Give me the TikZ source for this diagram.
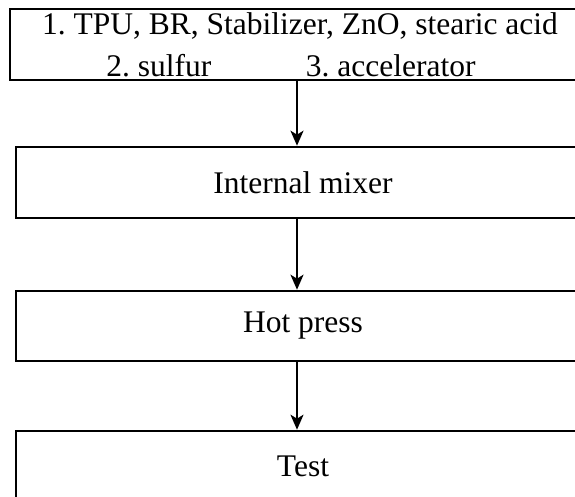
\documentclass[tikz,border=0pt]{standalone}
\usepackage{fontspec}
\setmainfont{Liberation Serif}
\usetikzlibrary{arrows.meta}
\frenchspacing
\tikzset{
	stepbox/.style={draw, line width=2.6pt, minimum height=71pt, inner sep=0pt, align=center, font=\fontsize{31.5}{42}\selectfont},
	flow/.style={-{Stealth[length=15pt,width=13pt,inset=4pt]}, line width=2.2pt}
}

\begin{document}
\begin{tikzpicture}[x=1pt,y=-1pt]
		%%%%% START %%%%%
		\useasboundingbox (0,0) rectangle (575,497);
		\clip (0,0) rectangle (575,497);
		
		\node[stepbox, minimum width=580pt] (raw) at (300,44.5) {1. TPU, BR, Stabilizer, ZnO, stearic acid\\2. sulfur\hspace{3em}3. accelerator\hspace*{18pt}};
		\node[stepbox, minimum width=574pt] (mixer) at (303,182.5) {Internal mixer};
		\node[stepbox, minimum width=574pt, minimum height=70pt] (press) at (303,326) {Hot press};
		\node[stepbox, minimum width=574pt, minimum height=70pt] (test) at (303,466) {Test};
		
		\coordinate (axis) at (297,0);
		\draw[flow] (raw.south -| axis) -- (mixer.north -| axis);
		\draw[flow] (mixer.south -| axis) -- (press.north -| axis);
		\draw[flow] (press.south -| axis) -- (test.north -| axis);
		
		%%%%% END %%%%%
\end{tikzpicture}
\end{document}
